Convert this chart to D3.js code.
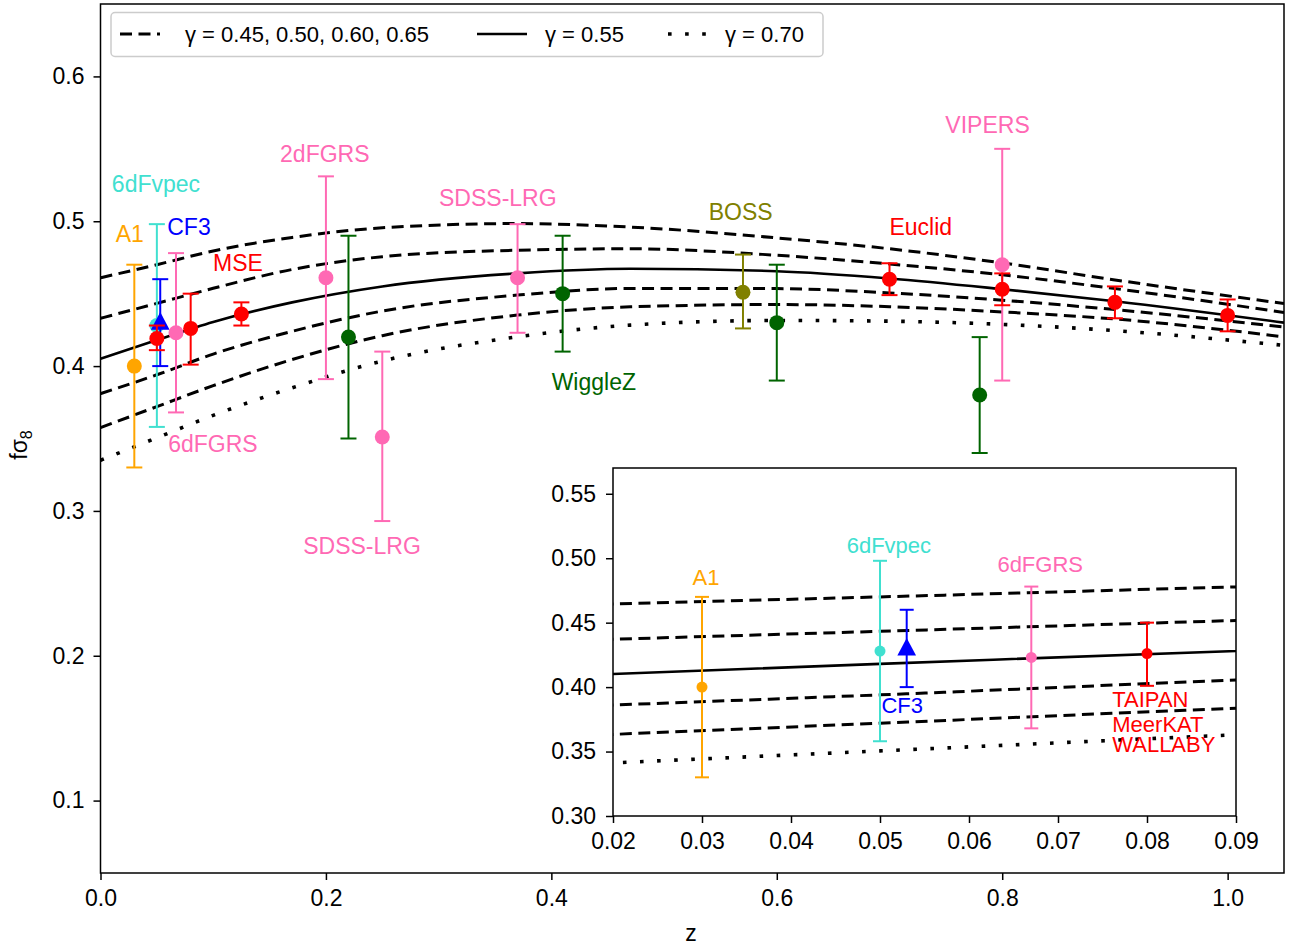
<!DOCTYPE html>
<html><head><meta charset="utf-8">
<script src="https://cdn.jsdelivr.net/npm/d3@7"></script>
<style>
body{margin:0;background:#fff}
text{font-family:"Liberation Sans",Arial,Helvetica,sans-serif}
</style>
</head><body>
<svg id="chart" width="1292" height="949"></svg>
<script>
// ---------- data ----------
const zGrid = [0, 0.05, 0.1, 0.17, 0.25, 0.37, 0.47, 0.6, 0.7, 0.8, 0.9, 1.05];
const fs8Gamma045 = [0.461, 0.470, 0.4795, 0.4888, 0.4955, 0.4984, 0.4960, 0.4885, 0.4810, 0.4712, 0.4595, 0.4432];
const fs8Gamma050 = [0.433, 0.4433, 0.4537, 0.4667, 0.4755, 0.4800, 0.4810, 0.4765, 0.4705, 0.4630, 0.4535, 0.4370];
const fs8Gamma055 = [0.405, 0.418, 0.4305, 0.4440, 0.4550, 0.4640, 0.4672, 0.4655, 0.4605, 0.4531, 0.4448, 0.4300];
const fs8Gamma060 = [0.381, 0.394, 0.4083, 0.4240, 0.4380, 0.4490, 0.4536, 0.4535, 0.4505, 0.4455, 0.4390, 0.4270];
const fs8Gamma065 = [0.3575, 0.372, 0.3865, 0.4045, 0.4210, 0.4352, 0.4409, 0.4425, 0.4410, 0.4374, 0.4325, 0.4202];
const fs8Gamma070 = [0.335, 0.3505, 0.366, 0.385, 0.4035, 0.4202, 0.4283, 0.4315, 0.4310, 0.4288, 0.4245, 0.4143];

const pointSurvey = ["A1","6dFvpec","CF3","6dFGRS","Forecast","Forecast","MSE","2dFGRS","WiggleZ","SDSS-LRG","SDSS-LRG","WiggleZ","BOSS","WiggleZ","Euclid","WiggleZ","VIPERS","Euclid","Euclid","Euclid"];
const pointZ      = [0.03, 0.05, 0.053, 0.067, 0.05, 0.08, 0.125, 0.20, 0.22, 0.25, 0.37, 0.41, 0.57, 0.60, 0.70, 0.78, 0.80, 0.80, 0.90, 1.00];
const pointFs8    = [0.400, 0.428, 0.430, 0.423, 0.419, 0.426, 0.436, 0.461, 0.420, 0.351, 0.461, 0.450, 0.451, 0.430, 0.460, 0.380, 0.470, 0.453, 0.444, 0.435];
const pointLow    = [0.330, 0.358, 0.400, 0.368, 0.411, 0.401, 0.428, 0.391, 0.350, 0.293, 0.423, 0.410, 0.426, 0.390, 0.449, 0.340, 0.390, 0.442, 0.433, 0.424];
const pointHigh   = [0.470, 0.498, 0.460, 0.478, 0.428, 0.450, 0.444, 0.531, 0.490, 0.410, 0.498, 0.490, 0.477, 0.470, 0.471, 0.420, 0.550, 0.464, 0.455, 0.446];
const insetPointIdx = [0, 1, 2, 3, 5];

const mainLabelText = ["6dFvpec","A1","CF3","MSE","6dFGRS","2dFGRS","SDSS-LRG","SDSS-LRG","WiggleZ","BOSS","Euclid","VIPERS"];
const mainLabelSurvey = ["6dFvpec","A1","CF3","MSE","6dFGRS","2dFGRS","SDSS-LRG","SDSS-LRG","WiggleZ","BOSS","Euclid","VIPERS"];
const mainLabelZ = [0.0492, 0.026, 0.0785, 0.122, 0.0998, 0.199, 0.3525, 0.232, 0.4377, 0.568, 0.7277, 0.787];
const mainLabelFs8 = [0.520, 0.4855, 0.4903, 0.4655, 0.3407, 0.5407, 0.5103, 0.2703, 0.3835, 0.5007, 0.4903, 0.5607];

const insetLabelText = ["A1","6dFvpec","6dFGRS","CF3","TAIPAN","MeerKAT","WALLABY"];
const insetLabelSurvey = ["A1","6dFvpec","6dFGRS","CF3","Forecast","Forecast","Forecast"];
const insetLabelZ = [0.03045, 0.0510, 0.0680, 0.0525, 0.0761, 0.0761, 0.0761];
const insetLabelFs8 = [0.4792, 0.5040, 0.4893, 0.3799, 0.3846, 0.3652, 0.3497];

const xTicksMain = [0.0, 0.2, 0.4, 0.6, 0.8, 1.0];
const yTicksMain = [0.1, 0.2, 0.3, 0.4, 0.5, 0.6];
const xTicksInset = [0.02, 0.03, 0.04, 0.05, 0.06, 0.07, 0.08, 0.09];
const yTicksInset = [0.30, 0.35, 0.40, 0.45, 0.50, 0.55];

const legendLabels = ["γ = 0.45, 0.50, 0.60, 0.65", "γ = 0.55", "γ = 0.70"];

// ---------- styles ----------
const colorOf = {"A1":"#FFA500","6dFvpec":"#40E0D0","CF3":"#0000FF","6dFGRS":"#FF69B4","Forecast":"#FF0000",
  "MSE":"#FF0000","2dFGRS":"#FF69B4","WiggleZ":"#006400","SDSS-LRG":"#FF69B4","BOSS":"#808000","Euclid":"#FF0000","VIPERS":"#FF69B4"};
const FONT = '"Liberation Sans",Arial,Helvetica,sans-serif';
const FS = 23;
const DASH = "12,6.5", DOT = "3.6,13.5";
const curves = [
  {v: fs8Gamma045, dash: DASH, w: 3},
  {v: fs8Gamma050, dash: DASH, w: 3},
  {v: fs8Gamma060, dash: DASH, w: 3},
  {v: fs8Gamma065, dash: DASH, w: 3},
  {v: fs8Gamma070, dash: DOT, w: 3.6},
  {v: fs8Gamma055, dash: null, w: 2.6},
];

const svg = d3.select("#chart");
const M = {l: 100.5, r: 1284, t: 4, b: 873};
const I = {l: 613, r: 1236, t: 468, b: 816};

const x = d3.scaleLinear().domain([0, 1.05]).range([M.l, M.r]);
const y = d3.scaleLinear().domain([0.05, 0.65]).range([M.b, M.t]);
const xi = d3.scaleLinear().domain([0.02, 0.09]).range([I.l, I.r]);
const yi = d3.scaleLinear().domain([0.30, 0.57]).range([I.b, I.t]);

const defs = svg.append("defs");
defs.append("clipPath").attr("id","clipMain").append("rect")
  .attr("x",M.l).attr("y",M.t).attr("width",M.r-M.l).attr("height",M.b-M.t);
defs.append("clipPath").attr("id","clipInset").append("rect")
  .attr("x",I.l).attr("y",I.t).attr("width",I.r-I.l).attr("height",I.b-I.t);

function drawCurves(g, xs, ys, clip){
  const cg = g.append("g").attr("clip-path", `url(#${clip})`);
  curves.forEach(c => {
    const line = d3.line().x((d,i)=>xs(zGrid[i])).y(d=>ys(d)).curve(d3.curveMonotoneX);
    cg.append("path").attr("d", line(c.v)).attr("fill","none").attr("stroke","#000")
      .attr("stroke-width", c.w).attr("stroke-dasharray", c.dash);
  });
}

function drawPoints(g, xs, ys, idx, r, cap, tri){
  idx.forEach(i => {
    const col = colorOf[pointSurvey[i]];
    const px = xs(pointZ[i]);
    g.append("line").attr("x1",px).attr("x2",px).attr("y1",ys(pointLow[i])).attr("y2",ys(pointHigh[i]))
      .attr("stroke",col).attr("stroke-width",2);
    [pointLow[i], pointHigh[i]].forEach(v => {
      g.append("line").attr("x1",px-cap).attr("x2",px+cap).attr("y1",ys(v)).attr("y2",ys(v))
        .attr("stroke",col).attr("stroke-width",2);
    });
    if (pointSurvey[i] === "CF3") {
      const py = ys(pointFs8[i]);
      g.append("path").attr("d", `M${px},${py-tri*0.62} L${px+tri*0.55},${py+tri*0.42} L${px-tri*0.55},${py+tri*0.42} Z`)
        .attr("fill", col);
    } else {
      g.append("circle").attr("cx",px).attr("cy",ys(pointFs8[i])).attr("r",r).attr("fill",col);
    }
  });
}

function styleAxis(a){
  a.select(".domain").remove();
  a.selectAll("line").attr("stroke","#000").attr("stroke-width",1.5);
  a.selectAll("text").attr("font-size",FS).attr("fill","#000").attr("font-family",FONT);
}

// ---------- main plot ----------
const main = svg.append("g");
drawCurves(main, x, y, "clipMain");
drawPoints(main, x, y, d3.range(pointZ.length), 7.5, 8, 17);

mainLabelText.forEach((t,i) => {
  main.append("text").attr("x", x(mainLabelZ[i])).attr("y", y(mainLabelFs8[i]))
    .attr("text-anchor","middle").attr("font-size",FS).attr("fill",colorOf[mainLabelSurvey[i]]).text(t);
});

const axB = main.append("g").attr("transform",`translate(0,${M.b})`)
  .call(d3.axisBottom(x).tickValues(xTicksMain).tickFormat(d=>d.toFixed(1)).tickSize(7).tickPadding(10));
const axL = main.append("g").attr("transform",`translate(${M.l},0)`)
  .call(d3.axisLeft(y).tickValues(yTicksMain).tickFormat(d=>d.toFixed(1)).tickSize(7).tickPadding(9));
styleAxis(axB); styleAxis(axL);
main.append("rect").attr("x",M.l).attr("y",M.t).attr("width",M.r-M.l).attr("height",M.b-M.t)
  .attr("fill","none").attr("stroke","#000").attr("stroke-width",1.5);

main.append("text").attr("x", 691).attr("y", 941).attr("text-anchor","middle")
  .attr("font-size",FS).text("z");
const yl = main.append("text").attr("transform","translate(27,445) rotate(-90)").attr("text-anchor","middle")
  .attr("font-size",FS);
yl.append("tspan").text("fσ");
yl.append("tspan").attr("font-size",16).attr("dy",5).text("8");

// ---------- legend ----------
const lg = svg.append("g");
lg.append("rect").attr("x",111).attr("y",12.5).attr("width",712).attr("height",44).attr("rx",4)
  .attr("fill","#fff").attr("stroke","#cccccc").attr("stroke-width",1.5);
const legItems = [
  {x1:120, x2:160, dash: DASH, w:3, tx:185, label: legendLabels[0]},
  {x1:477, x2:527, dash: null, w:2.6, tx:545, label: legendLabels[1]},
  {x1:668, x2:712, dash: DOT, w:3.6, tx:725, label: legendLabels[2]},
];
legItems.forEach(it => {
  lg.append("line").attr("x1",it.x1).attr("x2",it.x2).attr("y1",34).attr("y2",34)
    .attr("stroke","#000").attr("stroke-width",it.w).attr("stroke-dasharray", it.dash);
  lg.append("text").attr("x",it.tx).attr("y",42).attr("font-size",22).text(it.label);
});

// ---------- inset ----------
const inset = svg.append("g");
inset.append("rect").attr("x",I.l).attr("y",I.t).attr("width",I.r-I.l).attr("height",I.b-I.t).attr("fill","#fff");
drawCurves(inset, xi, yi, "clipInset");
drawPoints(inset, xi, yi, insetPointIdx, 5.5, 7, 17);
insetLabelText.forEach((t,i) => {
  const anchor = insetLabelSurvey[i] === "Forecast" ? "start" : "middle";
  inset.append("text").attr("x", xi(insetLabelZ[i])).attr("y", yi(insetLabelFs8[i]))
    .attr("text-anchor",anchor).attr("font-size",22).attr("fill",colorOf[insetLabelSurvey[i]]).text(t);
});
const iaxB = inset.append("g").attr("transform",`translate(0,${I.b})`)
  .call(d3.axisBottom(xi).tickValues(xTicksInset).tickFormat(d=>d.toFixed(2)).tickSize(7).tickPadding(10));
const iaxL = inset.append("g").attr("transform",`translate(${I.l},0)`)
  .call(d3.axisLeft(yi).tickValues(yTicksInset).tickFormat(d=>d.toFixed(2)).tickSize(7).tickPadding(10));
styleAxis(iaxB); styleAxis(iaxL);
inset.append("rect").attr("x",I.l).attr("y",I.t).attr("width",I.r-I.l).attr("height",I.b-I.t)
  .attr("fill","none").attr("stroke","#000").attr("stroke-width",1.5);
</script>
</body></html>
